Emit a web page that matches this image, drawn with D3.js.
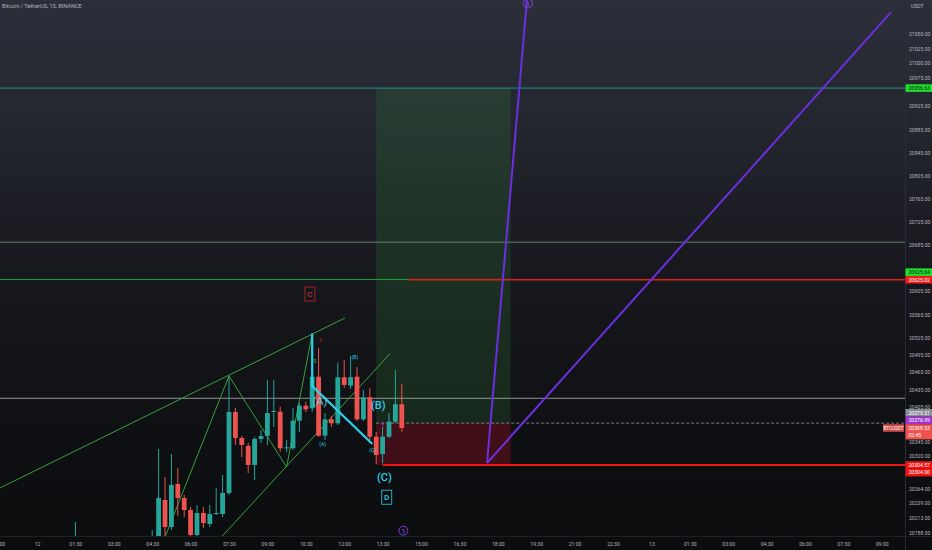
<!DOCTYPE html>
<html><head><meta charset="utf-8">
<script src="https://cdn.jsdelivr.net/npm/d3@7"></script>
<style>html,body{margin:0;padding:0;background:#0b0c0e;overflow:hidden}svg{display:block}</style>
</head><body>
<svg id="chart" width="932" height="550"></svg>
<script>
// ---------- DATA (time in hours from 12 00:00, prices in USDT) ----------
const candleTimes = [1.5, 4.5, 4.75, 5, 5.25, 5.5, 5.75, 6, 6.25, 6.5, 6.75, 7, 7.25, 7.5, 7.75, 8, 8.25, 8.5, 8.75, 9, 9.25, 9.5, 9.75, 10, 10.25, 10.5, 10.75, 11, 11.25, 11.5, 11.75, 12, 12.25, 12.5, 12.75, 13, 13.25, 13.5, 13.75, 14, 14.25];
const opens  = [20140, 20150, 20180.0, 20244.0, 20197.3, 20271.7, 20247.5, 20226.7, 20183.5, 20221.5, 20202.5, 20219.8, 20219.8, 20256.1, 20396.3, 20351.3, 20337.5, 20304.6, 20349.6, 20354.8, 20396.8, 20396.8, 20333.5, 20333.5, 20381.2, 20407.2, 20402.7, 20457.3, 20355.3, 20383.6, 20376.7, 20456.3, 20441.8, 20457.3, 20383.6, 20421.7, 20353.5, 20323.6, 20353.5, 20379.5, 20409.6];
const highs  = [20206, 20192, 20332.3, 20283.8, 20323.6, 20299.4, 20252.7, 20231.9, 20235.4, 20231.9, 20235.4, 20264.8, 20287.3, 20458.6, 20403.2, 20354.8, 20342.6, 20353.0, 20365.1, 20451.6, 20451.6, 20405.4, 20347.8, 20403.2, 20411.8, 20414.1, 20465.5, 20506.5, 20394.5, 20389.3, 20481.6, 20486.2, 20493.1, 20474.1, 20434.3, 20437.3, 20361.6, 20370.8, 20394.5, 20469.0, 20444.7];
const lows   = [20120, 20130, 20166.2, 20180.0, 20192.1, 20216.4, 20214.6, 20174.8, 20174.8, 20195.6, 20197.3, 20218.1, 20214.6, 20252.7, 20339.2, 20318.4, 20290.7, 20278.6, 20342.6, 20339.2, 20370.3, 20327.6, 20327.1, 20330.5, 20362.2, 20396.3, 20396.3, 20353.0, 20347.8, 20370.3, 20373.8, 20437.8, 20436.1, 20380.7, 20380.7, 20347.8, 20305.8, 20307.5, 20351.3, 20377.3, 20362.2];
const closes = [20150, 20170, 20247.5, 20197.3, 20270.0, 20247.5, 20226.7, 20183.5, 20221.5, 20204.2, 20219.8, 20221.5, 20256.1, 20396.3, 20351.3, 20339.2, 20304.6, 20349.6, 20354.8, 20394.5, 20398.0, 20333.5, 20335.2, 20381.2, 20407.2, 20400.9, 20457.3, 20355.3, 20383.6, 20376.7, 20456.3, 20443.0, 20456.3, 20383.6, 20421.7, 20353.5, 20321.9, 20353.5, 20379.5, 20409.6, 20368.53];

const timeTicks  = [-1.5, 0, 1.5, 3, 4.5, 6, 7.5, 9, 10.5, 12, 13.5, 15, 16.5, 18, 19.5, 21, 22.5, 24, 25.5, 27, 28.5, 30, 31.5, 33];
const timeLabels = ["00", "12", "01:30", "03:00", "04:30", "06:00", "07:30", "09:00", "10:30", "12:00", "13:30", "15:00", "16:30", "18:00", "19:30", "21:00", "22:30", "13", "01:30", "03:00", "04:30", "06:00", "07:30", "09:00"];
const priceTicks = [21050, 21025, 21000, 20975, 20925, 20885, 20845, 20805, 20765, 20725, 20685, 20645, 20605, 20565, 20525, 20495, 20465, 20435, 20405, 20345, 20320, 20264, 20239, 20213, 20188];

// horizontal levels
const levelPrices = [20956.63, 20690, 20625.64, 20625.02, 20420, 20376.99, 20304.57];
const levelStarts = [null, null, null, 14.5, null, 13.25, 13.5];
// long position tool
const posStart = 13.25, posEnd = 18.5, posEntry = 20376.99, posTarget = 20956.63, posStop = 20304.57;
// drawings
const wedgeUpper = [[-1.445, 20264.8], [12.03, 20558.9]];
const wedgeLower = [[6.9, 20165.3], [13.79, 20497.1]];
const zigzag = [[4.75, 20152], [7.5, 20458.6], [9.75, 20301], [10.75, 20532]];
const cyanPath = [[10.75, 20532], [10.75, 20441], [13.1, 20341]];
const purpleA = [[17.58, 20308], [19.16, 21120]];
const purpleB = [[17.58, 20308], [33.36, 21088]];
// axis tags
const tagValues = [20956.63, 20625.64, 20625.02, 20379.51, 20376.99, 20368.53, 20304.57, 20304.00];
const tagTexts  = ["20956.63", "20625.64", "20625.02", "20379.51", "20376.99", "20368.53", "20304.57", "20304.00"];
const tagSub    = [null, null, null, null, null, "02:45", null, null];
// wave labels
const waveTexts = ["C", "E", "5", "(B)", "(A)", "(A)", "(B)", "(C)", "(C)", "D", "5", "5", "4"];
const waveTimes = [10.66, 11.08, 10.86, 12.42, 11.05, 11.16, 13.33, 13.11, 13.57, 13.66, 14.31, 19.18, 13.5];
const wavePrices= [20600.4, 20521, 20484.5, 20491.4, 20415.3, 20340.4, 20408.4, 20330, 20284.3, 20248.7, 20190.9, 21103, 20375];

// ---------- SETUP ----------
const W = 932, H = 550, PW = 905, PH = 536;
const svg = d3.select("#chart");
const x = d3.scaleLinear().domain([-1.445, 33.906]).range([0, PW]);
const y = d3.scaleLinear().domain([20157.5, 21109]).range([550, 0]);
const FONT = "Roboto, 'Liberation Sans', sans-serif";
const AX = 5.1;

const defs = svg.append("defs");
const grad = defs.append("linearGradient").attr("id", "bg").attr("x1", 0).attr("y1", 0).attr("x2", 0).attr("y2", 1);
[[0, "#2c2f3a"], [0.25, "#23252d"], [0.5, "#17181d"], [0.75, "#101114"], [1, "#0b0c0e"]].forEach(s =>
  grad.append("stop").attr("offset", s[0]).attr("stop-color", s[1]));
defs.append("clipPath").attr("id", "plotclip").append("rect").attr("x", 0).attr("y", 0).attr("width", PW).attr("height", PH);

svg.append("rect").attr("width", W).attr("height", H).attr("fill", "url(#bg)");
svg.append("rect").attr("x", 0).attr("y", PH).attr("width", W).attr("height", H - PH).attr("fill", "#0b0c0e");

const plot = svg.append("g").attr("clip-path", "url(#plotclip)");
const line = d3.line().x(d => x(d[0])).y(d => y(d[1]));

// position zones
plot.append("rect").attr("x", x(posStart)).attr("width", x(posEnd) - x(posStart))
  .attr("y", y(posTarget)).attr("height", y(posEntry) - y(posTarget))
  .attr("fill", "rgba(50,140,60,0.2)");
plot.append("rect").attr("x", x(posStart)).attr("width", x(posEnd) - x(posStart))
  .attr("y", y(posEntry)).attr("height", y(posStop) - y(posEntry))
  .attr("fill", "rgba(170,15,35,0.32)");

// level lines
const levelStyles = [
  {c: "rgba(38,166,154,0.85)", w: 1, d: null},
  {c: "rgba(120,145,130,0.8)", w: 1, d: null},
  {c: "#22a63e", w: 1, d: null},
  {c: "#e31b1b", w: 1.3, d: null},
  {c: "rgba(190,190,190,0.75)", w: 1, d: null},
  {c: "rgba(150,150,160,0.8)", w: 1, d: "3,2"},
  {c: "#f01616", w: 2, d: null}
];
levelPrices.forEach((p, i) => {
  const st = levelStyles[i];
  plot.append("line").attr("x1", levelStarts[i] == null ? 0 : x(levelStarts[i])).attr("x2", PW)
    .attr("y1", y(p)).attr("y2", y(p)).attr("stroke", st.c).attr("stroke-width", st.w)
    .attr("stroke-dasharray", st.d);
});

// wedge & zigzag (green)
[wedgeUpper, wedgeLower, zigzag].forEach(pts =>
  plot.append("path").attr("d", line(pts)).attr("fill", "none").attr("stroke", "#35a23c").attr("stroke-width", 1));

// candles
const candles = candleTimes.map((t, i) => ({t, o: opens[i], h: highs[i], l: lows[i], c: closes[i]}));
const UP = "#26a69a", DOWN = "#ef5350";
const cg = plot.append("g");
cg.selectAll("line").data(candles).join("line")
  .attr("x1", d => x(d.t)).attr("x2", d => x(d.t))
  .attr("y1", d => y(d.h)).attr("y2", d => y(d.l))
  .attr("stroke", d => d.c >= d.o ? UP : DOWN).attr("stroke-width", 1);
cg.selectAll("rect").data(candles).join("rect")
  .attr("x", d => x(d.t) - 2.4).attr("width", 4.8)
  .attr("y", d => y(Math.max(d.o, d.c)))
  .attr("height", d => Math.max(1, Math.abs(y(d.o) - y(d.c))))
  .attr("fill", d => d.c >= d.o ? UP : DOWN);

// cyan wave line
plot.append("path").attr("d", line(cyanPath)).attr("fill", "none").attr("stroke", "#2bd3ea").attr("stroke-width", 2.2);
// purple projections
[purpleA, purpleB].forEach(pts =>
  plot.append("path").attr("d", line(pts)).attr("fill", "none").attr("stroke", "#6b2fe0").attr("stroke-width", 2));

// wave labels
const waveStyle = [
  {c: "#c62828", s: 8, box: true},
  {c: "#b71c1c", s: 5},
  {c: "#3fbf4a", s: 5},
  {c: "#2bd3ea", s: 5},
  {c: "#5fd0e6", s: 11, o: 0.8},
  {c: "#2bd3ea", s: 5},
  {c: "#2bd3ea", s: 11},
  {c: "#2bd3ea", s: 5},
  {c: "#2bd3ea", s: 11},
  {c: "#2bd3ea", s: 8, box: true},
  {c: "#8e44ef", s: 6, circle: true},
  {c: "#8e44ef", s: 6, circle: true},
  {c: "#8e44ef", s: 5}
];
waveTexts.forEach((txt, i) => {
  const st = waveStyle[i], cx = x(waveTimes[i]), cy = y(wavePrices[i]);
  if (st.box) {
    plot.append("rect").attr("x", cx - 5).attr("y", cy - 7).attr("width", 10).attr("height", 14)
      .attr("fill", "none").attr("stroke", st.c).attr("stroke-width", 1).attr("opacity", 0.8);
  }
  if (st.circle) {
    plot.append("circle").attr("cx", cx).attr("cy", cy).attr("r", 4.5)
      .attr("fill", "none").attr("stroke", st.c).attr("stroke-width", 0.9);
  }
  plot.append("text").attr("x", cx).attr("y", cy).attr("dy", "0.36em")
    .attr("text-anchor", "middle").attr("font-family", FONT).attr("font-size", st.s)
    .attr("font-weight", st.s >= 8 ? 500 : 400).attr("fill", st.c).attr("opacity", st.o || 1).text(txt);
});

// ---------- AXES ----------
svg.append("line").attr("x1", PW + 0.5).attr("x2", PW + 0.5).attr("y1", 0).attr("y2", H).attr("stroke", "#2a2d36");
svg.append("line").attr("x1", 0).attr("x2", W).attr("y1", PH + 0.5).attr("y2", PH + 0.5).attr("stroke", "#1e2027");

const yAxis = d3.axisRight(y).tickValues(priceTicks).tickSize(0).tickPadding(4)
  .tickFormat(d => d3.format(".2f")(d));
const ya = svg.append("g").attr("transform", `translate(${PW},0)`).call(yAxis);
ya.select(".domain").remove();
ya.selectAll("text").attr("font-family", FONT).attr("font-size", AX).attr("fill", "#b2b5be");

const xAxis = d3.axisBottom(x).tickValues(timeTicks).tickSize(0).tickPadding(6)
  .tickFormat((d, i) => timeLabels[i]);
const xa = svg.append("g").attr("transform", `translate(0,${PH})`).call(xAxis);
xa.select(".domain").remove();
xa.selectAll("text").attr("font-family", FONT).attr("font-size", AX).attr("fill", "#b2b5be");
// first (partly off-screen) label kept inside the frame
xa.selectAll(".tick").filter((d, i) => i === 0).select("text").attr("text-anchor", "start").attr("x", -x(timeTicks[0]) - 1);

svg.append("text").attr("x", 911).attr("y", 8).attr("font-family", FONT).attr("font-size", AX)
  .attr("fill", "#b2b5be").text("USDT");
svg.append("text").attr("x", 2).attr("y", 8).attr("font-family", FONT).attr("font-size", 5.6)
  .attr("fill", "#b2b5be").text("Bitcoin / TetherUS, 15, BINANCE");

// ---------- AXIS TAGS ----------
const tagStyle = [
  {bg: "#1fe02c", fg: "#111", cl: 0, anchor: true},
  {bg: "#1fe02c", fg: "#111", cl: 1},
  {bg: "#f21b1b", fg: "#fff", cl: 1, anchor: true},
  {bg: "#8a8d96", fg: "#fff", cl: 2},
  {bg: "#a032d2", fg: "#fff", cl: 2},
  {bg: "#ef5350", fg: "#fff", cl: 2, anchor: true},
  {bg: "#f41212", fg: "#fff", cl: 3, anchor: true},
  {bg: "#f41212", fg: "#fff", cl: 3}
];
const TH = 7.6;
const tags = tagValues.map((v, i) => ({v, text: tagTexts[i], sub: tagSub[i], ...tagStyle[i], yc: y(v)}));
tags.forEach(t => { t.top = t.yc - TH / 2; t.h = t.sub ? TH * 2 : TH; });
d3.groups(tags, t => t.cl).forEach(([cl, arr]) => {
  const a = arr.find(t => t.anchor);
  const above = arr.filter(t => t !== a && t.v > a.v).sort((p, q) => p.v - q.v);
  let top = a.top;
  above.forEach(t => { t.top = top - t.h; top = t.top; });
  const below = arr.filter(t => t !== a && t.v < a.v).sort((p, q) => q.v - p.v);
  let bot = a.top + a.h;
  below.forEach(t => { t.top = bot; bot = t.top + t.h; });
});
// hide price tick labels hidden behind a tag (as the platform does)
ya.selectAll(".tick").filter(d => tags.some(t => y(d) > t.top - 0.5 && y(d) < t.top + t.h + 0.5)).remove();

const tg = svg.append("g");
tags.forEach(t => {
  tg.append("rect").attr("x", PW + 0.5).attr("y", t.top).attr("width", W - PW).attr("height", t.h).attr("fill", t.bg);
  tg.append("text").attr("x", PW + 3.5).attr("y", t.top + TH / 2).attr("dy", "0.36em")
    .attr("font-family", FONT).attr("font-size", AX).attr("fill", t.fg).text(t.text);
  if (t.sub) tg.append("text").attr("x", PW + 3.5).attr("y", t.top + TH * 1.5).attr("dy", "0.36em")
    .attr("font-family", FONT).attr("font-size", AX).attr("fill", t.fg).text(t.sub);
});
// symbol tag
const cur = tags[5];
svg.append("rect").attr("x", 883).attr("y", cur.top).attr("width", 21).attr("height", TH).attr("fill", "rgba(239,83,80,0.85)");
svg.append("text").attr("x", 893.5).attr("y", cur.top + TH / 2).attr("dy", "0.36em").attr("text-anchor", "middle")
  .attr("font-family", FONT).attr("font-size", 4.6).attr("fill", "#fff").text("BTCUSDT");
</script>
</body></html>
